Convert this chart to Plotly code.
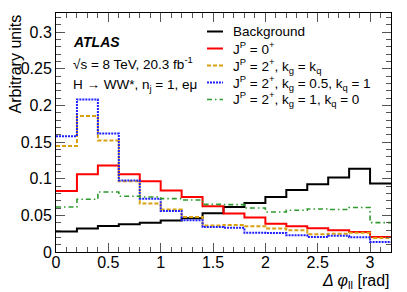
import plotly.graph_objects as go

bin_edges = [0.0, 0.2, 0.4, 0.6, 0.8, 1.0, 1.2, 1.4, 1.6, 1.8, 2.0, 2.2, 2.4, 2.6, 2.8, 3.0, 3.2]

background = [0.028, 0.032, 0.0355, 0.038, 0.040, 0.043, 0.046, 0.053, 0.0614, 0.0669, 0.075, 0.0846, 0.0924, 0.1015, 0.1137, 0.0933]
spin0 = [0.0832, 0.106, 0.118, 0.106, 0.0965, 0.084, 0.075, 0.0623, 0.0524, 0.0469, 0.0387, 0.035, 0.0323, 0.0296, 0.0273, 0.0205]
spin2_kg_kq = [0.1446, 0.1855, 0.152, 0.0965, 0.066, 0.058, 0.0478, 0.036, 0.0369, 0.035, 0.032, 0.0296, 0.0241, 0.025, 0.0264, 0.019]
spin2_kg05_kq1 = [0.158, 0.208, 0.1615, 0.0975, 0.0728, 0.056, 0.0432, 0.034, 0.033, 0.0264, 0.026, 0.0228, 0.0205, 0.022, 0.020, 0.0136]
spin2_kg1_kq0 = [0.0614, 0.0719, 0.0819, 0.076, 0.075, 0.0728, 0.071, 0.065, 0.0646, 0.060, 0.0546, 0.0569, 0.0587, 0.058, 0.0606, 0.040]

series_names = [
    "Background",
    "J<sup>P</sup> = 0<sup>+</sup>",
    "J<sup>P</sup> = 2<sup>+</sup>, k<sub>g</sub> = k<sub>q</sub>",
    "J<sup>P</sup> = 2<sup>+</sup>, k<sub>g</sub> = 0.5, k<sub>q</sub> = 1",
    "J<sup>P</sup> = 2<sup>+</sup>, k<sub>g</sub> = 1, k<sub>q</sub> = 0",
]
series_values = [background, spin0, spin2_kg_kq, spin2_kg05_kq1, spin2_kg1_kq0]
series_colors = ["#000000", "#ff0000", "#d9a010", "#2020ff", "#2f9a2f"]
series_dash = ["solid", "solid", "4px,2px", "2px,1px", "5px,3px,1.5px,3px"]
series_width = [2, 2, 2, 2, 1.6]

x_tick_vals = [0, 0.5, 1, 1.5, 2, 2.5, 3]
x_tick_text = ["0", "0.5", "1", "1.5", "2", "2.5", "3"]
y_tick_vals = [0, 0.05, 0.1, 0.15, 0.2, 0.25, 0.3]
y_tick_text = ["0", "0.05", "0.1", "0.15", "0.2", "0.25", "0.3"]

FONT = "Liberation Sans, Arial, sans-serif"

fig = go.Figure()
for name, vals, col, dash, w in zip(series_names, series_values, series_colors, series_dash, series_width):
    fig.add_trace(go.Scatter(
        x=bin_edges,
        y=list(vals) + [vals[-1]],
        mode="lines",
        line=dict(shape="hv", color=col, dash=dash, width=w),
        name=name,
        showlegend=False,
    ))

# page body has an 8px default margin: compensate so the plot area lands
# at page pixels x 56..391, y 13..252
OFF = 8
W, H = 407 - OFF, 292 - OFF
ml, mr, mt, mb = 56 - OFF, 16, 13 - OFF, 40

fig.update_layout(
    width=W, height=H,
    margin=dict(l=ml, r=mr, t=mt, b=mb, autoexpand=False),
    paper_bgcolor="white", plot_bgcolor="white",
    font=dict(family=FONT, size=16, color="black"),
    showlegend=False,
    xaxis=dict(
        range=[0, 3.2], tickmode="array", tickvals=x_tick_vals, ticktext=x_tick_text,
        ticks="inside", ticklen=9, tickwidth=1, tickcolor="#555",
        showline=True, linecolor="black", linewidth=1, mirror="ticks",
        showgrid=False, zeroline=False, automargin=False,
        minor=dict(ticks="inside", ticklen=5, dtick=0.1, tickcolor="#555", showgrid=False),
        tickfont=dict(size=16), ticklabelstandoff=-4,
    ),
    yaxis=dict(
        range=[0, 0.326], tickmode="array", tickvals=y_tick_vals, ticktext=y_tick_text,
        ticks="inside", ticklen=9, tickwidth=1, tickcolor="#555",
        showline=True, linecolor="black", linewidth=1, mirror="ticks",
        showgrid=False, zeroline=False, automargin=False,
        minor=dict(ticks="inside", ticklen=5, dtick=0.01, tickcolor="#555", showgrid=False),
        tickfont=dict(size=16),
    ),
)

pw = W - ml - mr
ph = H - mt - mb

def px_x(p):
    return (p - OFF - ml) / pw

def px_y(p):
    return 1 - (p - OFF - mt) / ph

# legend (drawn manually, ROOT style)
legend_rows = [31.5, 48.5, 65.5, 82.5, 99.5]
for name, col, dash, w, yr in zip(series_names, series_colors, series_dash, series_width, legend_rows):
    fig.add_shape(
        type="line", xref="paper", yref="paper",
        x0=px_x(207), x1=px_x(223), y0=px_y(yr), y1=px_y(yr),
        line=dict(color=col, dash=dash, width=w),
    )
    fig.add_annotation(
        text=name, font=dict(size=13.5),
        xref="paper", yref="paper", x=px_x(231), y=px_y(yr),
        xanchor="left", yanchor="middle", showarrow=False,
    )

fig.add_annotation(
    text="Arbitrary units", textangle=-90, font=dict(size=16),
    xref="paper", yref="paper", x=px_x(15), y=1.0,
    xanchor="center", yanchor="top", showarrow=False,
)
fig.add_annotation(
    text="<i>Δ φ</i><sub>ll</sub> [rad]", font=dict(size=16),
    xref="paper", yref="paper", x=1.0, y=px_y(281),
    xanchor="right", yanchor="middle", showarrow=False,
)
fig.add_annotation(
    text="<b><i>ATLAS</i></b>", font=dict(size=14),
    xref="paper", yref="paper", x=px_x(71), y=px_y(42),
    xanchor="left", yanchor="middle", showarrow=False,
)
fig.add_annotation(
    text="√s = 8 TeV, 20.3 fb<sup>-1</sup>", font=dict(size=13.5),
    xref="paper", yref="paper", x=px_x(71), y=px_y(63),
    xanchor="left", yanchor="middle", showarrow=False,
)
fig.add_annotation(
    text="H → WW*, n<sub>j</sub> = 1, eμ", font=dict(size=13.5),
    xref="paper", yref="paper", x=px_x(71), y=px_y(85),
    xanchor="left", yanchor="middle", showarrow=False,
)

fig.write_html("out.html")
